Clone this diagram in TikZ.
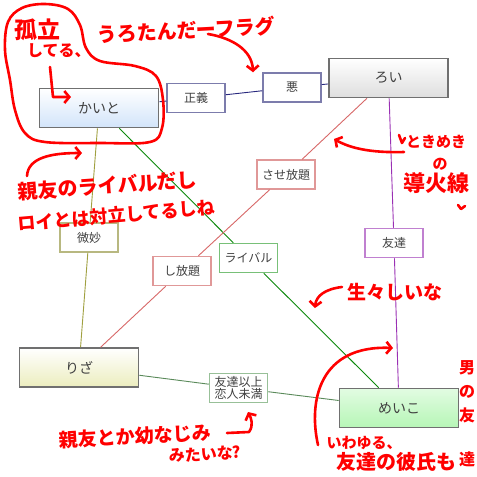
\documentclass[tikz,border=0pt]{standalone}
\usepackage{fontspec}
\setmainfont{Noto Sans CJK JP}
\usepackage{tikz}
\usetikzlibrary{arrows.meta}

\definecolor{boxgray}{HTML}{707070}
\definecolor{textgray}{HTML}{404040}
\definecolor{kaitoblue}{HTML}{D2E4FA}
\definecolor{roigray}{HTML}{DEDEDE}
\definecolor{rizayellow}{HTML}{ECEDBE}
\definecolor{meikogreen}{HTML}{B6F6B6}
\definecolor{navyline}{HTML}{28287E}
\definecolor{navybox}{HTML}{7C7CAC}
\definecolor{oliveline}{HTML}{A0A040}
\definecolor{olivebox}{HTML}{B8B880}
\definecolor{greenline}{HTML}{0C880C}
\definecolor{greenbox}{HTML}{78C078}
\definecolor{pinkline}{HTML}{D86868}
\definecolor{pinkbox}{HTML}{E09898}
\definecolor{purpleline}{HTML}{9A30B4}
\definecolor{purplebox}{HTML}{C080D0}
\definecolor{sageline}{HTML}{5A8A5A}
\definecolor{sagebox}{HTML}{98C098}

\begin{document}
\begin{tikzpicture}[x=1pt, y=-1pt,
  person/.style={draw=boxgray, line width=1.6pt, minimum width=119pt,
    minimum height=39pt, inner sep=0pt, text=textgray,
    font=\fontsize{14}{14}\selectfont},
  relation/.style={draw, fill=white, line width=1.5pt, minimum width=58pt,
    minimum height=29pt, inner sep=0pt, text=textgray, align=center,
    font=\fontsize{12}{12}\selectfont},
  link/.style={line width=0.9pt},
  scribble/.style={red, line width=2.6pt, line cap=round, line join=round},
  pointer/.style={scribble, -{Straight Barb[length=5pt, width=12pt]}},
  note/.style={text=red, inner sep=0pt, font=\fontsize{#1}{#1}\selectfont\bfseries},
  note/.default=18
]
\useasboundingbox[fill=white] (0,0) rectangle (477,477);

\node[person, top color=white, bottom color=kaitoblue] (kaito) at (99,108) {かいと};
\node[person, top color=white, bottom color=roigray] (roi) at (388.5,78) {ろい};
\node[person, top color=white, bottom color=rizayellow] (riza) at (79,367.5) {りざ};
\node[person, top color=white!60!meikogreen, bottom color=meikogreen] (meiko) at (399,408) {めいこ};

\node[relation, draw=navybox] (seigi) at (196,98) {正義};
\node[relation, draw=navybox] (aku) at (292,87.5) {悪};
\node[relation, draw=olivebox] (bimyou) at (89,237.5) {微妙};
\node[relation, draw=greenbox] (rival) at (248.5,258) {ライバル};
\node[relation, draw=pinkbox] (saseh) at (286,174.5) {させ放題};
\node[relation, draw=pinkbox] (shih) at (182,271) {し放題};
\node[relation, draw=purplebox] (tomo) at (394,243) {友達};
\node[relation, draw=sagebox] (ijou) at (238.5,388) {友達以上\\恋人未満};

\draw[link, navyline] (kaito) -- (seigi) -- (aku) -- (roi);
\draw[link, oliveline] (kaito) -- (bimyou) -- (riza);
\draw[link, greenline] (kaito) -- (rival) -- (meiko);
\draw[link, pinkline] (roi) -- (saseh) -- (shih) -- (riza);
\draw[link, purpleline] (roi) -- (tomo) -- (meiko);
\draw[link, sageline] (riza) -- (ijou) -- (meiko);

\draw[scribble] plot[smooth cycle, tension=0.6] coordinates {(8,22) (22,8) (45,4)
  (68,9) (80,25) (86,48) (100,61) (135,66) (156,76) (163,100) (162,128) (150,142)
  (100,143) (45,142) (25,133) (15,110) (10,80) (5,50)};
\node[note=23] (koritsu) at (37,30) {孤立};
\node[note=16, anchor=west] (shiteru) at (27,51) {してる、};
\coordinate (bend) at (53,97);
\coordinate (kaitotip) at (71,97);
\draw[pointer] (50,67) -- (bend) -- (kaitotip);

\node[note=20, rotate=3] (uroflag) at (186,30) {うろたんだーフラグ};
\draw[pointer] (208,34) .. controls (232,38) and (252,50) .. (aku.north -| 253,0);

\node[note=20, rotate=4, anchor=west] (shinyuu) at (18,192) {親友のライバルだし};
\node[note=18, rotate=5, anchor=west] (tairitsu) at (18,224) {ロイとは対立してるしね};
\draw[pointer] (27,176) .. controls (28,158) and (50,153) .. (82,153);

\node[note=15] (tokimeki) at (436,142) {ときめき};
\node[note=15] (no) at (440,164) {の};
\node[note=22] (douka) at (436,183) {導火線};
\draw[scribble] (399,135) -- (402,143) -- (405,138);
\draw[scribble] (458,205) -- (461,209) -- (465,206);
\draw[pointer] (404,152) .. controls (370,153) and (350,148) .. (334,139);

\node[note=19] (namanama) at (395,292) {生々しいな};
\draw[pointer] (342,287) .. controls (325,289) and (316,296) .. (315,308);

\node[note=19, rotate=3] (osana) at (135,436) {親友とか幼なじみ};
\node[note=16, rotate=3] (mitai) at (205,454) {みたいな?};
\draw[pointer] (227,433) -- (249,432) .. controls (254,425) and (251,418) .. (248,412);

\draw[pointer] (318,445) .. controls (308,400) and (320,345) .. (393,348);
\node[note=15] (iwayuru) at (364,443) {いわゆる、};
\node[note=20] (kareshi) at (396,462) {友達の彼氏も};
\node[note=16, anchor=north, align=center,
  font=\fontsize{16}{24}\selectfont\bfseries] (otoko) at (467,360) {男\\の\\友\\[20pt]達};
\end{tikzpicture}
\end{document}
